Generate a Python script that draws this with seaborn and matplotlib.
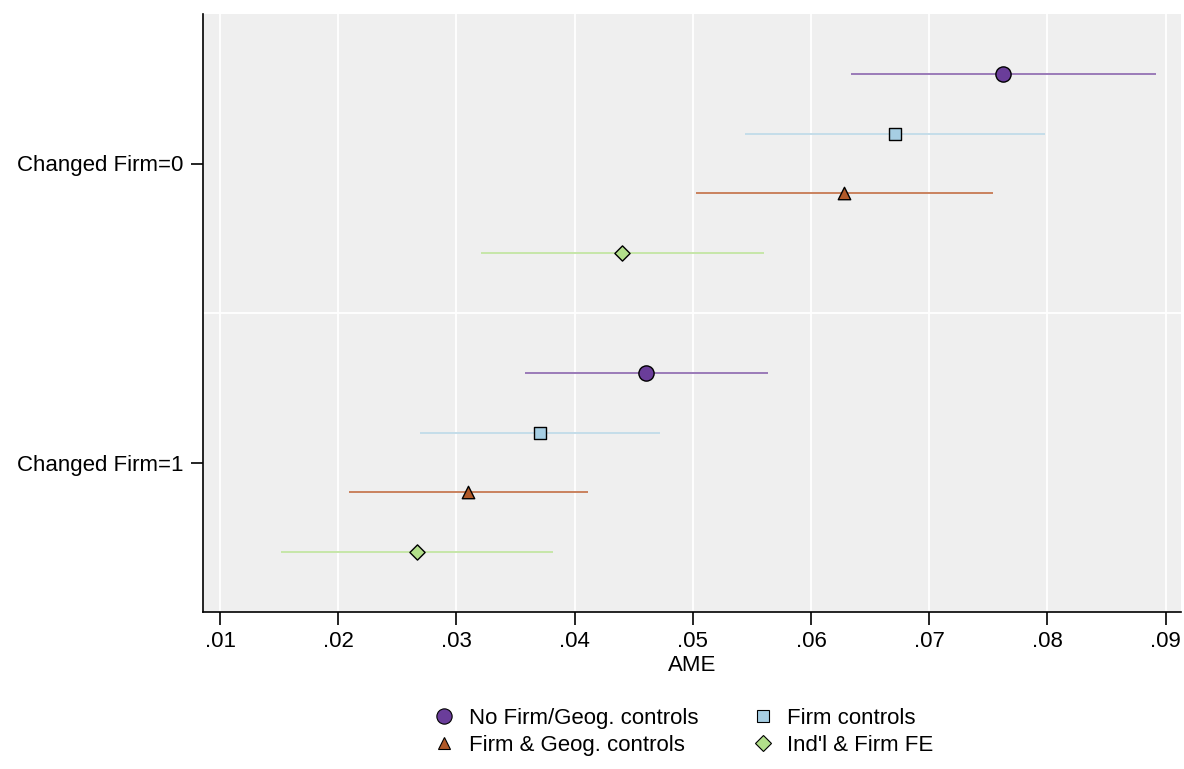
import matplotlib
matplotlib.use("Agg")
import matplotlib.pyplot as plt
import seaborn as sns
import pandas as pd
import numpy as np

groups = ["Changed Firm=0", "Changed Firm=1"]
models = ["No Firm/Geog. controls", "Firm controls", "Firm & Geog. controls", "Ind'l & Firm FE"]

ame_g0 = [0.0762, 0.0671, 0.0628, 0.0440]
lo_g0 = [0.0634, 0.0544, 0.0503, 0.0321]
hi_g0 = [0.0892, 0.0798, 0.0754, 0.0560]

ame_g1 = [0.0460, 0.0371, 0.0310, 0.0267]
lo_g1 = [0.0358, 0.0269, 0.0209, 0.0152]
hi_g1 = [0.0564, 0.0472, 0.0411, 0.0382]

xticks = [0.01, 0.02, 0.03, 0.04, 0.05, 0.06, 0.07, 0.08, 0.09]
xticklabels = [".01", ".02", ".03", ".04", ".05", ".06", ".07", ".08", ".09"]

colors = ["#6a3d9a", "#a6cee3", "#b15928", "#b2df8a"]
line_colors = ["#9a7ab8", "#c4dde9", "#c9825e", "#c6e6a9"]
markers = ["o", "s", "^", "D"]
sizes = [120, 65, 80, 60]
offsets = [-0.3, -0.1, 0.1, 0.3]

rows = []
for gi, (ame, lo, hi) in enumerate([(ame_g0, lo_g0, hi_g0), (ame_g1, lo_g1, hi_g1)]):
    for mi, m in enumerate(models):
        rows.append(dict(group=groups[gi], model=m, ame=ame[mi], lo=lo[mi], hi=hi[mi],
                         y=gi + offsets[mi]))
df = pd.DataFrame(rows)

sns.set_theme(style="white")
plt.rcParams["font.family"] = ["Liberation Sans", "DejaVu Sans"]
plt.rcParams["text.color"] = "black"

fig = plt.figure(figsize=(11.84, 7.69), dpi=100)
ax = fig.add_axes([203 / 1184, 1 - 612 / 769, (1181 - 203) / 1184, (612 - 14) / 769])
ax.set_facecolor("#efefef")

for mi, m in enumerate(models):
    sub = df[df.model == m]
    ax.hlines(sub.y, sub.lo, sub.hi, color=line_colors[mi], lw=1.4, zorder=2)
    sns.scatterplot(data=sub, x="ame", y="y", ax=ax, marker=markers[mi], s=sizes[mi],
                    color=colors[mi], edgecolor="black", linewidth=1.0, zorder=3,
                    legend=False)

ax.set_xlim(0.00856, 0.0913)
ax.set_ylim(1.5, -0.5)
ax.set_xticks(xticks)
ax.set_xticklabels(xticklabels)
ax.set_yticks([0, 1])
ax.set_yticklabels(groups)
for x in xticks:
    ax.axvline(x, color="white", lw=1.3, zorder=1)
ax.axhline(0.5, color="white", lw=1.3, zorder=1)

for s in ["top", "right"]:
    ax.spines[s].set_visible(False)
for s in ["left", "bottom"]:
    ax.spines[s].set_color("black")
    ax.spines[s].set_linewidth(1.2)

ax.tick_params(axis="both", which="major", direction="out", length=9, width=1.2,
               color="black", labelsize=16, labelcolor="black", bottom=True, left=True, pad=5)
ax.set_xlabel("AME", fontsize=16, labelpad=2, color="black")
ax.set_ylabel("")

from matplotlib.lines import Line2D
handles = [Line2D([], [], marker=markers[i], linestyle="none", markerfacecolor=colors[i],
                  markeredgecolor="black", markeredgewidth=0.8,
                  markersize=[11, 8, 9, 8][i]) for i in range(4)]
order = [0, 2, 1, 3]
leg = fig.legend([handles[i] for i in order], [models[i] for i in order], ncol=2,
                 loc="center", bbox_to_anchor=(682 / 1184, 1 - 732 / 769), frameon=False,
                 fontsize=16, handletextpad=0.5, columnspacing=2.3, labelspacing=0.25,
                 handlelength=1.2)
for t in leg.get_texts():
    t.set_color("black")

fig.savefig("out.png", dpi=100, facecolor="white")
